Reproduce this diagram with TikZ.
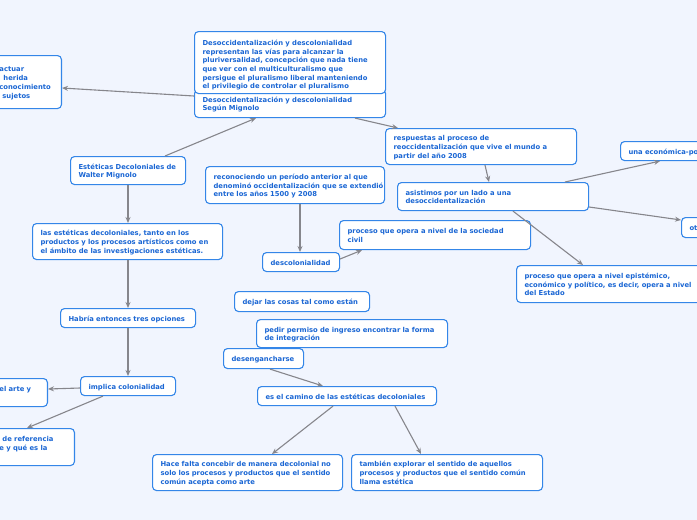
\documentclass[tikz,border=0pt]{standalone}
\usepackage{fontspec}
\setmainfont{DejaVu Sans}
\usetikzlibrary{calc,arrows.meta}
\definecolor{bgc}{RGB}{241,245,254}
\definecolor{bordc}{RGB}{52,134,232}
\definecolor{txtc}{RGB}{26,102,212}
\definecolor{linec}{RGB}{134,134,140}
\newcommand{\lns}[2][8.6pt]{\begin{tabular}{@{}l@{}}\rule{0pt}{#1}#2\end{tabular}}
\tikzset{
  box/.style={draw=bordc, fill=white, line width=1.1pt, rounded corners=4pt,
    text=txtc, font=\fontsize{6.8}{8.7}\selectfont\bfseries, align=left,
    inner xsep=8pt, inner ysep=0pt, anchor=north west},
  conn/.style={draw=linec, line width=1.1pt, -{Stealth[length=6pt,width=5pt]}}
}
\begin{document}
\begin{tikzpicture}[x=1pt,y=-1pt]
\useasboundingbox (0,0) rectangle (697,520);
\fill[bgc] (0,0) rectangle (697,520);
\clip (0,0) rectangle (697,520);
% nodes
\node[box, anchor=north east, text width=54pt, minimum height=53pt] (b1) at (62,55)
  {\lns{actuar\\\hspace*{4pt}herida\\conocimiento\\\hspace*{3pt}sujetos}};
\node[box, text width=175pt, minimum height=28pt] (b3) at (194,89)
  {\lns{Desoccidentalización y descolonialidad\\Según Mignolo}};
\node[box, text width=175pt, minimum height=62pt] (b2) at (194,31)
  {\lns[12pt]{Desoccidentalización y descolonialidad\\representan las vías para alcanzar la\\pluriversalidad, concepción que nada tiene\\que ver con el multiculturalismo que\\persigue el pluralismo liberal manteniendo\\el privilegio de controlar el pluralismo}};
\node[box, text width=175pt, minimum height=36pt] (b4) at (385,128)
  {\lns{respuestas al proceso de\\reoccidentalización que vive el mundo a\\partir del año 2008}};
\node[box, text width=124pt, minimum height=19pt] (b5) at (620,141)
  {\lns{una económica-po}};
\node[box, text width=175pt, minimum height=28pt] (b6) at (397,182)
  {\lns{asistimos por un lado a una\\desoccidentalización}};
\node[box, text width=163pt, minimum height=37pt] (b7) at (205,166)
  {\lns{reconociendo un período anterior al que\\denominó occidentalización que se extendió\\entre los años 1500 y 2008}};
\node[box, text width=63pt, minimum height=20pt] (b8) at (681,217)
  {\lns{ot}};
\node[box, text width=175pt, minimum height=29pt] (b9) at (339,220)
  {\lns{proceso que opera a nivel de la sociedad\\civil}};
\node[box, text width=61pt, minimum height=19pt] (b10) at (262,252)
  {\lns{descolonialidad}};
\node[box, text width=228pt, minimum height=37pt] (b11) at (516,265)
  {\lns{proceso que opera a nivel epistémico,\\económico y político, es decir, opera a nivel\\del Estado}};
\node[box, text width=99pt, minimum height=28pt] (b12) at (70,156)
  {\lns{Estéticas Decoloniales de\\Walter Mignolo}};
\node[box, text width=174pt, minimum height=36pt] (b13) at (32,223)
  {\lns{las estéticas decoloniales, tanto en los\\productos y los procesos artísticos como en\\el ámbito de las investigaciones estéticas.}};
\node[box, text width=119pt, minimum height=19pt] (b14) at (60,308)
  {\lns{Habría entonces tres opciones}};
\node[box, text width=79pt, minimum height=19pt] (b15) at (80,376)
  {\lns{implica colonialidad}};
\node[box, anchor=north east, text width=40pt, minimum height=28pt] (b16) at (48,378)
  {\lns{el arte y\\\mbox{}}};
\node[box, anchor=north east, text width=67pt, minimum height=37pt] (b17) at (75,428)
  {\lns{\hspace*{3pt}de referencia\\e y qué es la\\\mbox{}}};
\node[box, text width=119pt, minimum height=20pt] (b18) at (234,291)
  {\lns{dejar las cosas tal como están}};
\node[box, text width=175pt, minimum height=28pt] (b19) at (256,319)
  {\lns{pedir permiso de ingreso encontrar la forma\\de integración}};
\node[box, text width=64pt, minimum height=20pt] (b20) at (223,348)
  {\lns{desengancharse}};
\node[box, text width=163pt, minimum height=19pt] (b21) at (257,386)
  {\lns{es el camino de las estéticas decoloniales}};
\node[box, text width=174pt, minimum height=36pt] (b22) at (152,454)
  {\lns{Hace falta concebir de manera decolonial no\\solo los procesos y productos que el sentido\\común acepta como arte}};
\node[box, text width=175pt, minimum height=36pt] (b23) at (351,454)
  {\lns{también explorar el sentido de aquellos\\procesos y productos que el sentido común\\llama estética}};
% connectors
\draw[conn] ($(b3.north west)+(0,7)$) -- ($(b1.north east)+(0,33)$);
\draw[conn] ($(b12.north west)+(95,0)$) -- ($(b3.south west)+(62,0)$);
\draw[conn] ($(b3.south west)+(161,0)$) -- ($(b4.north west)+(13,0)$);
\draw[conn] ($(b4.south west)+(100,0)$) -- ($(b6.north west)+(92,0)$);
\draw[conn] ($(b6.north west)+(168,0)$) -- ($(b5.south west)+(40,0)$);
\draw[conn] ($(b6.north east)+(0,25)$) -- ($(b8.north west)+(0,3)$);
\draw[conn] ($(b6.south west)+(116,0)$) -- ($(b11.north west)+(67,0)$);
\draw[conn] ($(b7.south west)+(95,0)$) -- ($(b10.north west)+(38,0)$);
\draw[conn] ($(b10.north east)+(0,7)$) -- ($(b9.south west)+(23,0)$);
\draw[conn] ($(b12.south west)+(58,0)$) -- ($(b13.north west)+(96,0)$);
\draw[conn] ($(b13.south west)+(96,0)$) -- ($(b14.north west)+(68,0)$);
\draw[conn] ($(b14.south west)+(68,0)$) -- ($(b15.north west)+(48,0)$);
\draw[conn] ($(b15.north west)+(0,12)$) -- ($(b16.north east)+(0,11)$);
\draw[conn] ($(b15.south west)+(23,0)$) -- ($(b17.north east)+(-48,0)$);
\draw[conn] ($(b20.south west)+(47,0)$) -- ($(b21.north west)+(66,0)$);
\draw[conn] ($(b21.south west)+(76,0)$) -- ($(b22.north west)+(120,0)$);
\draw[conn] ($(b21.south west)+(138,0)$) -- ($(b23.north west)+(70,0)$);
\end{tikzpicture}
\end{document}
